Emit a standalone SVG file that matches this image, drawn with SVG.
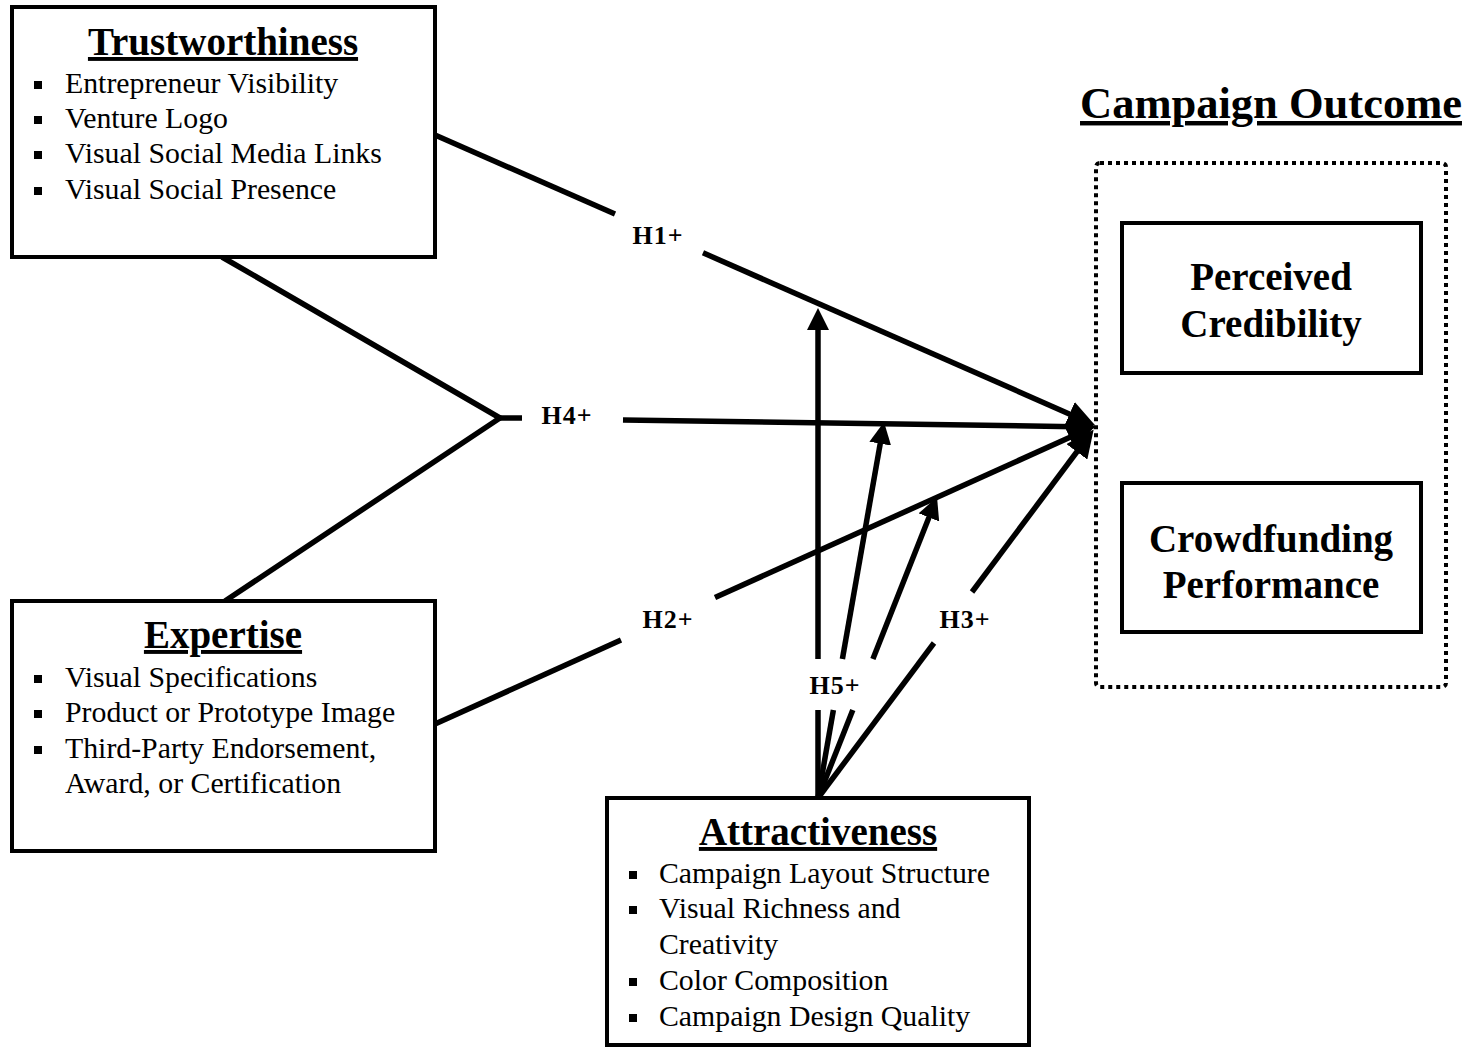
<svg xmlns="http://www.w3.org/2000/svg" width="1470" height="1047" viewBox="0 0 1470 1047">
<style>
  text { font-family: "Liberation Serif", "Times New Roman", serif; fill: #000; }
  .box { fill: #fff; stroke: #000; stroke-width: 4; }
  .title { font-size: 39px; font-weight: bold; text-anchor: middle; text-decoration: underline; }
  .item { font-size: 29.8px; }
  .out { font-size: 39px; font-weight: bold; text-anchor: middle; }
  .hl { font-size: 26px; font-weight: bold; text-anchor: middle; letter-spacing: 1px; }
  .bul { fill: #000; }
  .c { fill: none; stroke: #000; stroke-width: 5.5; stroke-linecap: butt; stroke-linejoin: miter; }
</style>
<defs>
  <marker id="ah" markerUnits="userSpaceOnUse" markerWidth="24" markerHeight="22" refX="4" refY="11" orient="auto" viewBox="0 0 24 22">
    <path d="M0,0 L22,11 L0,22 z" fill="#000"/>
  </marker>
  <marker id="ahBig" markerUnits="userSpaceOnUse" markerWidth="28" markerHeight="26" refX="6" refY="13" orient="auto" viewBox="0 0 28 26">
    <path d="M0,0 L28,13 L0,26 z" fill="#000"/>
  </marker>
</defs>
<rect width="1470" height="1047" fill="#fff"/>

<g id="connectors">
  <!-- H1 -->
  <line class="c" x1="435" y1="135" x2="615" y2="214.1"/>
  <line class="c" x1="703" y1="252.8" x2="1075" y2="416.4" marker-end="url(#ahBig)"/>
  <!-- H4 -->
  <polyline class="c" points="222,257 500,418 225,601"/>
  <line class="c" x1="498" y1="418" x2="522" y2="418"/>
  <line class="c" x1="623" y1="420" x2="1075" y2="426.7" marker-end="url(#ahBig)"/>
  <!-- H2 -->
  <line class="c" x1="435" y1="724" x2="621" y2="640"/>
  <line class="c" x1="715" y1="597.5" x2="1075" y2="435" marker-end="url(#ahBig)"/>
  <!-- H3 -->
  <line class="c" x1="818" y1="798" x2="934" y2="643"/>
  <line class="c" x1="972" y1="592" x2="1080.5" y2="447" marker-end="url(#ahBig)"/>
  <!-- H5 -->
  <line class="c" x1="818" y1="798" x2="818" y2="710"/>
  <line class="c" x1="818" y1="659" x2="818" y2="326" marker-end="url(#ah)"/>
  <line class="c" x1="818" y1="798" x2="833.4" y2="710"/>
  <line class="c" x1="842.4" y1="659" x2="880.9" y2="439.7" marker-end="url(#ah)"/>
  <line class="c" x1="818" y1="798" x2="852.8" y2="710"/>
  <line class="c" x1="872.9" y1="659" x2="930.4" y2="513.7" marker-end="url(#ah)"/>
  <!-- labels -->
  <text class="hl" x="658" y="244">H1+</text>
  <text class="hl" x="567" y="424">H4+</text>
  <text class="hl" x="668" y="628">H2+</text>
  <text class="hl" x="965" y="628">H3+</text>
  <text class="hl" x="835" y="694">H5+</text>
</g>

<g id="trustworthiness">
  <rect class="box" x="12" y="7" width="423" height="250"/>
  <text class="title" x="223" y="55">Trustworthiness</text>
  <rect class="bul" x="34" y="81" width="8" height="8"/>
  <text class="item" x="65" y="93">Entrepreneur Visibility</text>
  <rect class="bul" x="34" y="116" width="8" height="8"/>
  <text class="item" x="65" y="128">Venture Logo</text>
  <rect class="bul" x="34" y="151" width="8" height="8"/>
  <text class="item" x="65" y="163">Visual Social Media Links</text>
  <rect class="bul" x="34" y="187" width="8" height="8"/>
  <text class="item" x="65" y="199">Visual Social Presence</text>
</g>

<g id="expertise">
  <rect class="box" x="12" y="601" width="423" height="250"/>
  <text class="title" x="223" y="648">Expertise</text>
  <rect class="bul" x="34" y="675" width="8" height="8"/>
  <text class="item" x="65" y="687">Visual Specifications</text>
  <rect class="bul" x="34" y="710" width="8" height="8"/>
  <text class="item" x="65" y="722">Product or Prototype Image</text>
  <rect class="bul" x="34" y="746" width="8" height="8"/>
  <text class="item" x="65" y="758">Third-Party Endorsement,</text>
  <text class="item" x="65" y="793">Award, or Certification</text>
</g>

<g id="attractiveness">
  <rect class="box" x="607" y="798" width="422" height="247"/>
  <text class="title" x="818" y="845">Attractiveness</text>
  <rect class="bul" x="629" y="871" width="8" height="8"/>
  <text class="item" x="659" y="883">Campaign Layout Structure</text>
  <rect class="bul" x="629" y="906" width="8" height="8"/>
  <text class="item" x="659" y="918">Visual Richness and</text>
  <text class="item" x="659" y="954">Creativity</text>
  <rect class="bul" x="629" y="978" width="8" height="8"/>
  <text class="item" x="659" y="990">Color Composition</text>
  <rect class="bul" x="629" y="1014" width="8" height="8"/>
  <text class="item" x="659" y="1026">Campaign Design Quality</text>
</g>

<g id="campaign-outcome">
  <text x="1271" y="118" style="font-size:44.5px;font-weight:bold;text-anchor:middle;text-decoration:underline">Campaign Outcome</text>
  <rect x="1096" y="163" width="350" height="524" rx="4" fill="none" stroke="#000" stroke-width="4" stroke-dasharray="4 4"/>
</g>

<g id="perceived-credibility">
  <rect class="box" x="1122" y="223" width="299" height="150"/>
  <text class="out" x="1271" y="290">Perceived</text>
  <text class="out" x="1271" y="337">Credibility</text>
</g>

<g id="crowdfunding-performance">
  <rect class="box" x="1122" y="483" width="299" height="149"/>
  <text class="out" x="1271" y="552">Crowdfunding</text>
  <text class="out" x="1271" y="598">Performance</text>
</g>
</svg>
